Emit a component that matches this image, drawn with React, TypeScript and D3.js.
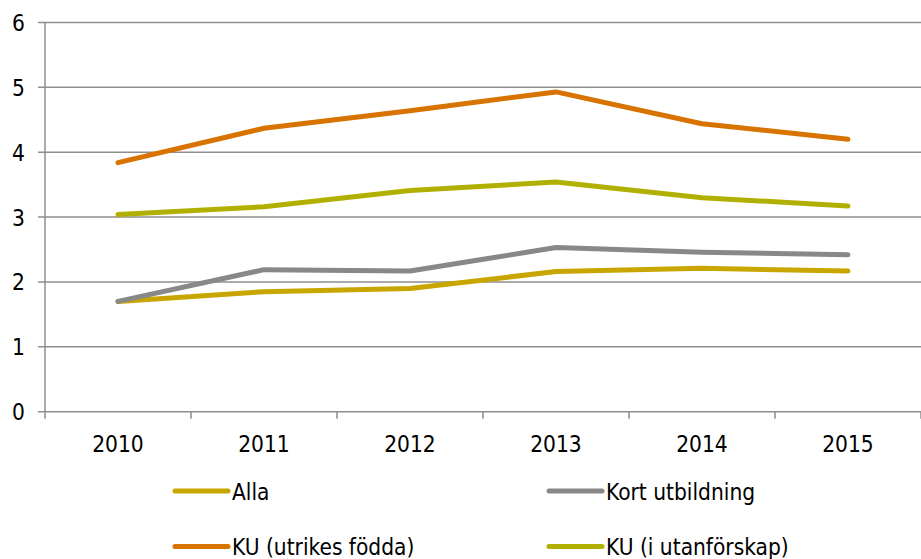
import React, { useEffect, useRef } from 'react';
import * as d3 from 'd3';

const years = ['2010', '2011', '2012', '2013', '2014', '2015'];
const yTicks = [0, 1, 2, 3, 4, 5, 6];

const alla = [1.70, 1.85, 1.90, 2.16, 2.21, 2.17];
const kortUtbildning = [1.70, 2.19, 2.17, 2.53, 2.46, 2.42];
const kuUtrikes = [3.84, 4.37, 4.64, 4.93, 4.44, 4.20];
const kuUtanforskap = [3.04, 3.16, 3.41, 3.54, 3.30, 3.17];

const seriesNames = ['Alla', 'Kort utbildning', 'KU (utrikes födda)', 'KU (i utanförskap)'];
const seriesColors = ['#c9a500', '#888888', '#d87300', '#b1b000'];

const FONT = '"DejaVu Sans Condensed", "DejaVu Sans", sans-serif';
const FONT_SIZE = 22.5;

export default function App() {
    const ref = useRef<SVGSVGElement>(null);

    useEffect(() => {
        const width = 921;
        const height = 559;
        const margin = { top: 22.5, right: 0, left: 45 };
        const plotBottom = 411.7;

        const svg = d3.select(ref.current);
        svg.selectAll('*').remove();

        const x = d3.scaleBand<string>()
            .domain(years)
            .range([margin.left, width - margin.right]);

        const y = d3.scaleLinear()
            .domain([0, 6])
            .range([plotBottom, margin.top]);

        // horizontal grid lines
        svg.append('g')
            .selectAll('line')
            .data(yTicks)
            .join('line')
            .attr('x1', margin.left - 7)
            .attr('x2', width)
            .attr('y1', d => y(d))
            .attr('y2', d => y(d))
            .attr('stroke', '#8e8e8e')
            .attr('stroke-width', 1.5);

        // y axis line
        svg.append('line')
            .attr('x1', margin.left)
            .attr('x2', margin.left)
            .attr('y1', y(6))
            .attr('y2', plotBottom + 7)
            .attr('stroke', '#8e8e8e')
            .attr('stroke-width', 1.5);

        // x ticks at band edges
        const edges = years.map(d => x(d) as number).concat([width - margin.right]);
        svg.append('g')
            .selectAll('line')
            .data(edges.slice(1))
            .join('line')
            .attr('x1', d => d)
            .attr('x2', d => d)
            .attr('y1', plotBottom)
            .attr('y2', plotBottom + 7)
            .attr('stroke', '#8e8e8e')
            .attr('stroke-width', 1.5);

        // y labels
        svg.append('g')
            .selectAll('text')
            .data(yTicks)
            .join('text')
            .attr('x', 25)
            .attr('y', d => y(d) + 8.5)
            .attr('text-anchor', 'end')
            .attr('font-family', FONT)
            .attr('font-size', FONT_SIZE)
            .attr('fill', '#000')
            .text(d => d);

        // x labels
        svg.append('g')
            .selectAll('text')
            .data(years)
            .join('text')
            .attr('x', d => (x(d) as number) + x.bandwidth() / 2)
            .attr('y', 452)
            .attr('text-anchor', 'middle')
            .attr('font-family', FONT)
            .attr('font-size', FONT_SIZE)
            .attr('fill', '#000')
            .text(d => d);

        const allSeries = [alla, kortUtbildning, kuUtrikes, kuUtanforskap];

        const line = d3.line<number>()
            .x((d, i) => (x(years[i]) as number) + x.bandwidth() / 2)
            .y(d => y(d));

        svg.append('g')
            .selectAll('path')
            .data(allSeries)
            .join('path')
            .attr('d', d => line(d))
            .attr('fill', 'none')
            .attr('stroke', (d, i) => seriesColors[i])
            .attr('stroke-width', 5)
            .attr('stroke-linecap', 'round')
            .attr('stroke-linejoin', 'round');

        // legend
        const legendX = [175, 549];
        const legendY = [491, 546.5];
        const legend = svg.append('g')
            .selectAll('g')
            .data(seriesNames)
            .join('g')
            .attr('transform', (d, i) => `translate(${legendX[i % 2]},${legendY[Math.floor(i / 2)]})`);

        legend.append('line')
            .attr('x1', 0)
            .attr('x2', 53)
            .attr('y1', 0)
            .attr('y2', 0)
            .attr('stroke', (d, i) => seriesColors[i])
            .attr('stroke-width', 5)
            .attr('stroke-linecap', 'round');

        legend.append('text')
            .attr('x', 57)
            .attr('y', 8.5)
            .attr('font-family', FONT)
            .attr('font-size', FONT_SIZE)
            .attr('fill', '#000')
            .text(d => d);
    }, []);

    return (
        <svg ref={ref} width={921} height={559} style={{ position: 'absolute', left: 0, top: 0 }} />
    );
}
